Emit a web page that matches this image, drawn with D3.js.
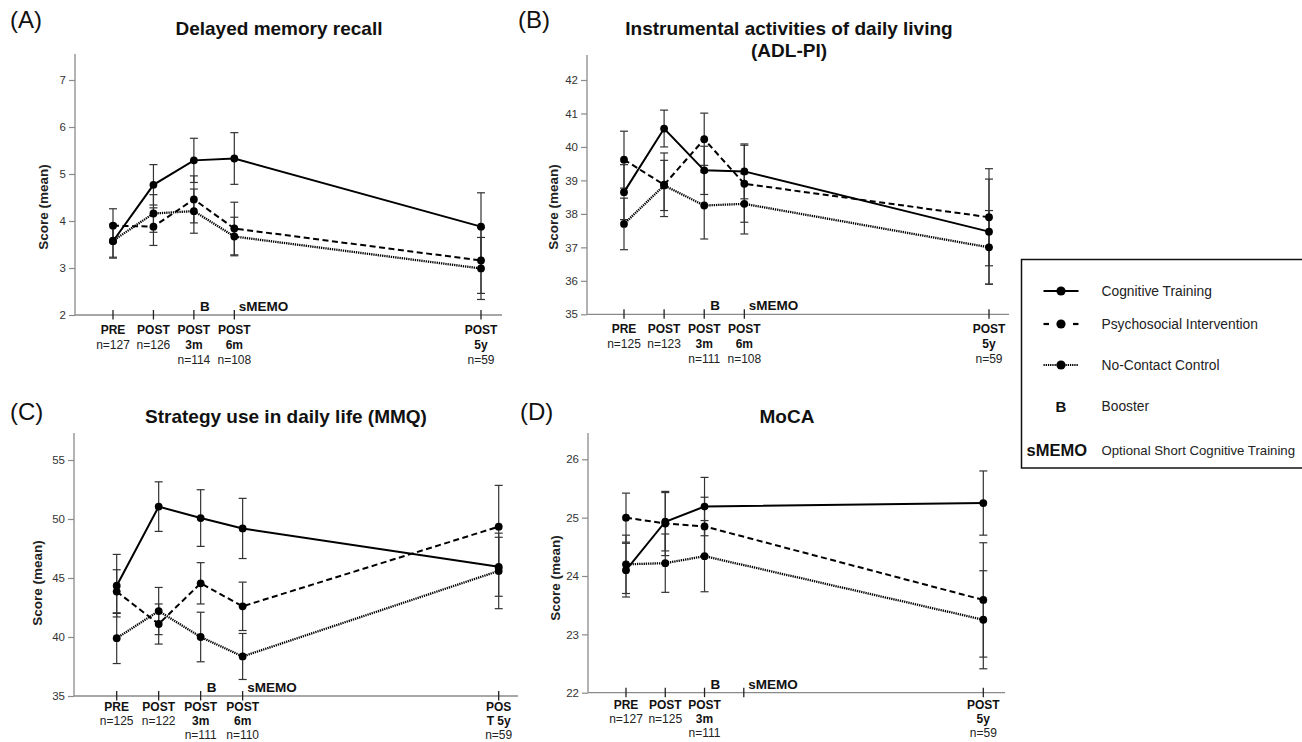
<!DOCTYPE html>
<html><head><meta charset="utf-8">
<script src="https://cdn.jsdelivr.net/npm/d3@7"></script>
<style>body{margin:0;background:#fff}svg{display:block;font-family:"Liberation Sans",Arial,Helvetica,sans-serif}</style>
</head><body>
<svg id="chart" width="1302" height="742"></svg>
<script>
// ---------- DATA ----------
const timePos = [0, 1, 2, 3, 9.1];           // ordinal time points: PRE, POST, POST 3m, POST 6m, POST 5y
const seriesNames = ["Cognitive Training", "Psychosocial Intervention", "No-Contact Control"];

const labelsStd = [["PRE"], ["POST"], ["POST", "3m"], ["POST", "6m"], ["POST", "5y"]];
const labelsC   = [["PRE"], ["POST"], ["POST", "3m"], ["POST", "6m"], ["POS", "T 5y"]];
const labelsD   = [["PRE"], ["POST"], ["POST", "3m"], [], ["POST", "5y"]];

const nA = ["n=127", "n=126", "n=114", "n=108", "n=59"];
const nB = ["n=125", "n=123", "n=111", "n=108", "n=59"];
const nC = ["n=125", "n=122", "n=111", "n=110", "n=59"];
const nD = ["n=127", "n=125", "n=111", "", "n=59"];

const yTicksA = [2, 3, 4, 5, 6, 7];
const yTicksB = [35, 36, 37, 38, 39, 40, 41, 42];
const yTicksC = [35, 40, 45, 50, 55];
const yTicksD = [22, 23, 24, 25, 26];

// (A) Delayed memory recall
const aCT = [3.57, 4.77, 5.29, 5.33, 3.88];
const aCTerr = [0.36, 0.43, 0.47, 0.55, 0.72];
const aPI = [3.90, 3.88, 4.46, 3.84, 3.16];
const aPIerr = [0.36, 0.40, 0.50, 0.56, 0.70];
const aNC = [3.58, 4.16, 4.21, 3.67, 2.99];
const aNCerr = [0.35, 0.40, 0.47, 0.41, 0.66];

// (B) ADL-PI
const bCT = [38.65, 40.55, 39.30, 39.27, 37.47];
const bCTerr = [0.82, 0.55, 0.72, 0.82, 1.57];
const bPI = [39.62, 38.87, 40.23, 38.90, 37.90];
const bPIerr = [0.85, 0.95, 0.78, 1.15, 1.45];
const bNC = [37.70, 38.85, 38.25, 38.30, 37.00];
const bNCerr = [0.77, 0.75, 1.00, 0.90, 1.10];

// (C) MMQ strategy
const cCT = [44.35, 51.05, 50.08, 49.20, 45.95];
const cCTerr = [2.65, 2.10, 2.40, 2.55, 2.50];
const cPI = [43.85, 41.10, 44.55, 42.60, 49.35];
const cPIerr = [1.85, 1.70, 1.75, 2.05, 3.50];
const cNC = [39.90, 42.20, 40.00, 38.35, 45.60];
const cNCerr = [2.15, 2.00, 2.10, 1.95, 3.20];

// (D) MoCA
const dCT = [24.10, 24.93, 25.19, null, 25.25];
const dCTerr = [0.46, 0.50, 0.50, null, 0.55];
const dPI = [25.00, 24.90, 24.85, null, 23.59];
const dPIerr = [0.42, 0.55, 0.50, null, 0.98];
const dNC = [24.20, 24.22, 24.34, null, 23.25];
const dNCerr = [0.50, 0.50, 0.61, null, 0.84];

// ---------- LAYOUT ----------
const FONT = '"Liberation Sans",Arial,Helvetica,sans-serif';
const axisColor = "#8a8a8a";
const styles = [
  {dash: null, width: 2},
  {dash: "6,3.5", width: 2},
  {dash: "1.3,0.9", width: 2.3}
];

const panels = [
  {tag: "(A)", tagX: 10, tagY: 28, title: ["Delayed memory recall"], titleX: 279, titleY: 34.5,
   left: 75, right: 502, top: 54, bottom: 315, topTickPx: 80, xPre: 113, x5y: 481,
   yTicks: yTicksA, labels: labelsStd, n: nA, tickIdx: [0,1,2,3,4], lab0: 18.5, labStep: 15,
   series: [[aCT, aCTerr], [aPI, aPIerr], [aNC, aNCerr]], yLabX: 43, yLabY: 207},
  {tag: "(B)", tagX: 518, tagY: 28, title: ["Instrumental activities of daily living", "(ADL-PI)"], titleX: 789, titleY: 34.5,
   left: 587, right: 1009, top: 55, bottom: 314.3, topTickPx: 80, xPre: 624, x5y: 989,
   yTicks: yTicksB, labels: labelsStd, n: nB, tickIdx: [0,1,2,3,4], lab0: 18.5, labStep: 15,
   series: [[bCT, bCTerr], [bPI, bPIerr], [bNC, bNCerr]], yLabX: 553, yLabY: 207},
  {tag: "(C)", tagX: 10, tagY: 420, title: ["Strategy use in daily life (MMQ)"], titleX: 286, titleY: 423,
   left: 74, right: 518, top: 433, bottom: 696, topTickPx: 460, xPre: 116.7, x5y: 498.7,
   yTicks: yTicksC, labels: labelsC, n: nC, tickIdx: [0,1,2,3,4], lab0: 15, labStep: 13.8,
   series: [[cCT, cCTerr], [cPI, cPIerr], [cNC, cNCerr]], yLabX: 37, yLabY: 583},
  {tag: "(D)", tagX: 520, tagY: 420, title: ["MoCA"], titleX: 787, titleY: 423,
   left: 588, right: 1005, top: 433, bottom: 692.7, topTickPx: 459.3, xPre: 626, x5y: 983.3,
   yTicks: yTicksD, labels: labelsD, n: nD, tickIdx: [0,1,2,3,4], lab0: 16, labStep: 14.2,
   series: [[dCT, dCTerr], [dPI, dPIerr], [dNC, dNCerr]], yLabX: 555, yLabY: 578}
];

const svg = d3.select("#chart");

function drawPanel(p) {
  const g = svg.append("g");
  const x = d3.scaleLinear().domain([timePos[0], timePos[4]]).range([p.xPre, p.x5y]);
  const y = d3.scaleLinear().domain([p.yTicks[0], p.yTicks[p.yTicks.length - 1]]).range([p.bottom, p.topTickPx]);

  // panel tag & title
  g.append("text").attr("x", p.tagX).attr("y", p.tagY).attr("font-size", 24).attr("fill", "#111").text(p.tag);
  p.title.forEach((t, i) => {
    g.append("text").attr("x", p.titleX).attr("y", p.titleY + i * 22.5).attr("text-anchor", "middle")
      .attr("font-size", 19).attr("font-weight", "bold").attr("fill", "#111").text(t);
  });

  // y axis
  const yAx = d3.axisLeft(y).tickValues(p.yTicks).tickSize(6).tickPadding(3).tickFormat(d3.format("d"));
  const ya = g.append("g").attr("transform", `translate(${p.left},0)`).call(yAx);
  ya.select(".domain").remove();
  ya.selectAll(".tick line").attr("stroke", axisColor).attr("stroke-width", 1.2);
  ya.selectAll(".tick text").attr("font-size", 11.5).attr("fill", "#333").attr("font-family", FONT);
  g.append("line").attr("x1", p.left).attr("x2", p.left).attr("y1", p.top).attr("y2", p.bottom)
    .attr("stroke", axisColor).attr("stroke-width", 1.3);
  g.append("line").attr("x1", p.left).attr("x2", p.right).attr("y1", p.bottom).attr("y2", p.bottom)
    .attr("stroke", axisColor).attr("stroke-width", 1.3);

  g.append("text").attr("transform", `translate(${p.yLabX},${p.yLabY}) rotate(-90)`).attr("text-anchor", "middle")
    .attr("dy", "0.35em").attr("font-size", 13.5).attr("font-weight", "bold").attr("fill", "#222").text("Score (mean)");

  // x ticks + labels
  p.tickIdx.forEach(i => {
    const xp = x(timePos[i]);
    g.append("line").attr("x1", xp).attr("x2", xp).attr("y1", p.bottom - 5).attr("y2", p.bottom + 4.5)
      .attr("stroke", "#222").attr("stroke-width", 1.3);
    const lines = p.labels[i];
    lines.forEach((t, k) => {
      g.append("text").attr("x", xp).attr("y", p.bottom + p.lab0 + k * p.labStep).attr("text-anchor", "middle")
        .attr("font-size", 12).attr("font-weight", "bold").attr("fill", "#111").text(t);
    });
    if (p.n[i]) {
      const k = Math.max(lines.length, 1);
      g.append("text").attr("x", xp).attr("y", p.bottom + p.lab0 + k * p.labStep).attr("text-anchor", "middle")
        .attr("font-size", 12).attr("fill", "#222").text(p.n[i]);
    }
  });

  // B and sMEMO markers
  g.append("text").attr("x", x(timePos[2]) + 6).attr("y", p.bottom - 4).attr("font-size", 13.5)
    .attr("font-weight", "bold").attr("fill", "#111").text("B");
  g.append("text").attr("x", x(timePos[3]) + 4.5).attr("y", p.bottom - 4).attr("font-size", 13.5)
    .attr("font-weight", "bold").attr("fill", "#111").text("sMEMO");

  // error bars
  const cap = 4;
  p.series.forEach(([vals, errs]) => {
    vals.forEach((v, i) => {
      if (v == null) return;
      const xp = x(timePos[i]), y1 = y(v - errs[i]), y2 = y(v + errs[i]);
      g.append("line").attr("x1", xp).attr("x2", xp).attr("y1", y1).attr("y2", y2).attr("stroke", "#333").attr("stroke-width", 1.2);
      [y1, y2].forEach(yy => g.append("line").attr("x1", xp - cap).attr("x2", xp + cap).attr("y1", yy).attr("y2", yy)
        .attr("stroke", "#333").attr("stroke-width", 1.2));
    });
  });

  // lines
  const line = d3.line().defined(d => d.v != null).x(d => x(d.t)).y(d => y(d.v));
  p.series.slice().reverse().forEach(([vals], ri) => {
    const si = p.series.length - 1 - ri;
    const pts = vals.map((v, i) => ({t: timePos[i], v})).filter(d => d.v != null);
    g.append("path").datum(pts).attr("d", line).attr("fill", "none").attr("stroke", "#000")
      .attr("stroke-width", styles[si].width).attr("stroke-dasharray", styles[si].dash);
  });

  // markers
  p.series.forEach(([vals]) => {
    vals.forEach((v, i) => {
      if (v == null) return;
      g.append("circle").attr("cx", x(timePos[i])).attr("cy", y(v)).attr("r", 3.9).attr("fill", "#000");
    });
  });
}

panels.forEach(drawPanel);

// ---------- LEGEND ----------
const lg = svg.append("g");
lg.append("rect").attr("x", 1021.5).attr("y", 259.5).attr("width", 300).attr("height", 208.5)
  .attr("fill", "#fff").attr("stroke", "#111").attr("stroke-width", 1.5);
const legY = [291, 324, 365, 406.5, 450];
const lx1 = 1043.5, lx2 = 1078.5, lcx = 1061;
// CT
lg.append("line").attr("x1", lx1).attr("x2", lx2).attr("y1", legY[0]).attr("y2", legY[0]).attr("stroke", "#000").attr("stroke-width", 2.2);
// PI: short dashes on each side
[[lx1, lx1 + 5.5], [lx2 - 5.5, lx2]].forEach(([a, b]) =>
  lg.append("line").attr("x1", a).attr("x2", b).attr("y1", legY[1]).attr("y2", legY[1]).attr("stroke", "#000").attr("stroke-width", 2.2));
// NC dotted
lg.append("line").attr("x1", lx1).attr("x2", lx2).attr("y1", legY[2]).attr("y2", legY[2]).attr("stroke", "#000")
  .attr("stroke-width", 2.2).attr("stroke-dasharray", "1.3,0.9");
[0, 1, 2].forEach(i => lg.append("circle").attr("cx", lcx).attr("cy", legY[i]).attr("r", 4.6).attr("fill", "#000"));
seriesNames.forEach((s, i) => lg.append("text").attr("x", 1101.5).attr("y", legY[i]).attr("dy", "0.35em")
  .attr("font-size", 13.8).attr("fill", "#222").text(s));
lg.append("text").attr("x", lcx).attr("y", legY[3]).attr("dy", "0.36em").attr("text-anchor", "middle")
  .attr("font-size", 15).attr("font-weight", "bold").attr("fill", "#111").text("B");
lg.append("text").attr("x", 1101.5).attr("y", legY[3]).attr("dy", "0.35em").attr("font-size", 13.8).attr("fill", "#222").text("Booster");
lg.append("text").attr("x", 1026.5).attr("y", legY[4]).attr("dy", "0.36em")
  .attr("font-size", 16.5).attr("font-weight", "bold").attr("fill", "#111").text("sMEMO");
lg.append("text").attr("x", 1101.5).attr("y", legY[4]).attr("dy", "0.35em").attr("font-size", 13.2).attr("fill", "#222").text("Optional Short Cognitive Training");
</script>
</body></html>
